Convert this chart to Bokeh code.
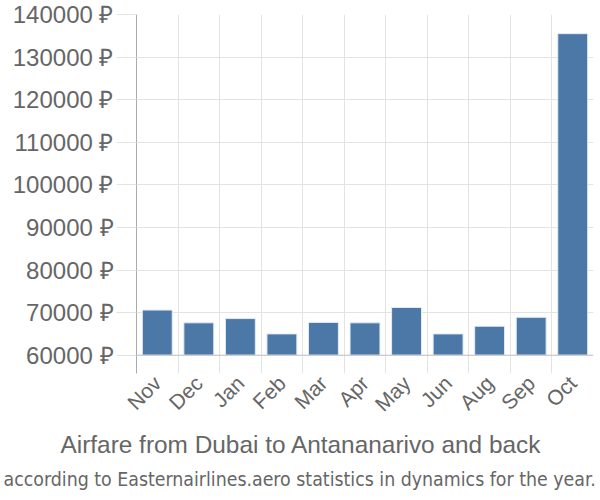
import math
from bokeh.plotting import figure
from bokeh.models import FixedTicker, Span, Title, Range1d, PrintfTickFormatter, CustomJSTickFormatter
from bokeh.embed import file_html
from bokeh.resources import INLINE

months = ["Nov", "Dec", "Jan", "Feb", "Mar", "Apr", "May", "Jun", "Aug", "Sep", "Oct"]
prices = [70600, 67600, 68600, 65000, 67700, 67600, 71200, 65000, 66800, 68900, 135500]
y_ticks = [60000, 70000, 80000, 90000, 100000, 110000, 120000, 130000, 140000]
baseline = 60000
title_text = "Airfare from Dubai to Antananarivo and back"
subtitle_text = "according to Easternairlines.aero statistics in dynamics for the year."

FONT = "Liberation Sans"
TXT = "#666666"
GRID = "#e3e3e3"

n = len(months)
centers = [i + 0.5 for i in range(n)]

p = figure(width=600, height=500, x_range=Range1d(0, n), y_range=Range1d(55700, 140000),
           output_backend="svg", toolbar_location=None,
           min_border_left=136, min_border_right=7, min_border_top=14, min_border_bottom=127)
p.outline_line_color = None
p.background_fill_color = "white"
p.border_fill_color = "white"

p.vbar(x=centers, top=prices, bottom=baseline, width=0.72,
       fill_color="#4c78a8", line_color="#e4ebf3", line_width=1)

p.add_layout(Span(location=baseline, dimension="width", line_color="#c4c4c4", line_width=1))

# x axis
xa = p.xaxis[0]
xa.ticker = FixedTicker(ticks=centers)
xa.formatter = CustomJSTickFormatter(args=dict(labels=months), code="return labels[Math.floor(tick)];")
xa.axis_line_color = None
xa.major_tick_line_color = None
xa.minor_tick_line_color = None
xa.major_label_orientation = math.pi / 4
xa.major_label_text_font = FONT
xa.major_label_text_font_size = "21px"
xa.major_label_text_color = TXT
xa.major_label_standoff = 0

p.xgrid[0].ticker = FixedTicker(ticks=list(range(n + 1)))
p.xgrid[0].grid_line_color = GRID

# y axis
ya = p.yaxis[0]
ya.ticker = FixedTicker(ticks=y_ticks)
ya.formatter = PrintfTickFormatter(format="%d ₽")
ya.axis_line_color = "#aaaaaa"
ya.major_tick_out = 20
ya.major_tick_in = 0
ya.major_tick_line_color = GRID
ya.minor_tick_line_color = None
ya.major_label_text_font = FONT
ya.major_label_text_font_size = "24px"
ya.major_label_text_color = TXT
ya.major_label_standoff = 3
p.ygrid[0].grid_line_color = GRID

t1 = Title(text=title_text, align="left", text_font=FONT, text_font_size="24.4px",
           text_color=TXT, text_font_style="normal", standoff=4, offset=-76)
t2 = Title(text=subtitle_text, align="left", text_font="DejaVu Sans Condensed, Liberation Sans",
           text_font_size="19.35px", text_color=TXT, text_font_style="normal", standoff=12, offset=-133)
p.add_layout(t1, "below")
p.add_layout(t2, "below")

open("out.html", "w").write(file_html(p, INLINE))
